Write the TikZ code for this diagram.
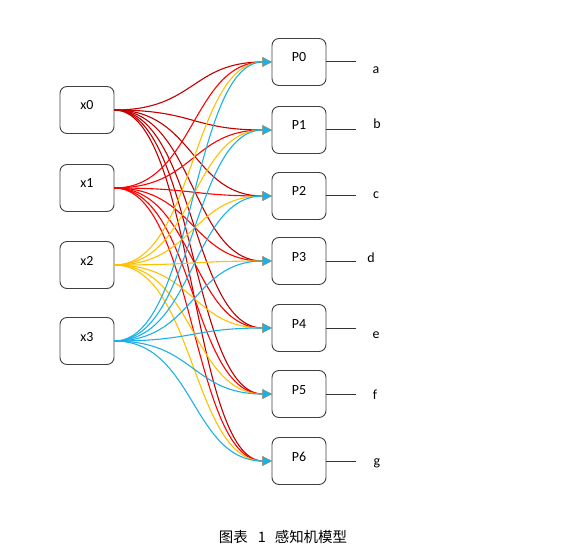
\documentclass[tikz,border=0pt]{standalone}
\usepackage{fontspec}
\setmainfont{Carlito}
\newfontfamily\cjkfont{Noto Sans CJK SC}
\usetikzlibrary{arrows.meta}
\definecolor{inzero}{HTML}{C00000}
\definecolor{inone}{HTML}{FF0000}
\definecolor{intwo}{HTML}{FFC000}
\definecolor{inthree}{HTML}{1CB0E8}
\begin{document}
\begin{tikzpicture}
[x=1bp, y=-1bp,
  nodedecorate/.style={draw=black!75, line width=0.9bp, rounded corners=7bp,
    minimum width=54bp, minimum height=47bp, inner sep=0pt,
    text height=9bp, text depth=9bp,
    font=\fontsize{14}{16}\selectfont},
  linedecorate/.style={line width=1.1bp, -{Triangle[length=9bp,width=9bp]},
    to path={.. controls +(80,0) and +(-80,0) .. (\tikztotarget) \tikztonodes}},
  outdecorate/.style={-, line width=1bp, black!80},%
  labeldecorate/.style={font=\fontsize{14}{16}\selectfont}]
\useasboundingbox (0,0) rectangle (568,553);
%% nodes or vertices
\foreach \nodename/\y in {x0/110, x1/188, x2/265, x3/341} {
  \node (\nodename) at (87,\y) [nodedecorate] {\nodename};
}
\foreach \nodename/\y in {P0/62, P1/130, P2/196, P3/261, P4/328,
  P5/394, P6/461} {
  \node (\nodename) at (299,\y) [nodedecorate] {\nodename};
  \coordinate (\nodename out) at (356,\y);
}
%% outputs
\foreach \nodename/\outname/\x/\y in {P0/a/376/70, P1/b/377/124,
  P2/c/376/195, P3/d/371/258, P4/e/376/335, P5/f/375/395, P6/g/377/463} {
  \draw[outdecorate] (\nodename.east) -- (\nodename out);
  \node (\outname) at (\x,\y) [labeldecorate] {\outname};
}
%% edges or lines
\foreach \startnode/\colour in {x0/inzero, x1/inone, x2/intwo, x3/inthree} {
  \path
  \foreach \endnode in {P0, P1, P2, P3, P4, P5, P6} {
    (\startnode.east) edge[linedecorate, \colour] node {} (\endnode.west)
  };
}
\node (caption) at (283,537)
  {\cjkfont\fontsize{14.5}{16}\selectfont 图表\hspace{10bp}1\hspace{9bp}感知机模型};
\end{tikzpicture}
\end{document}
